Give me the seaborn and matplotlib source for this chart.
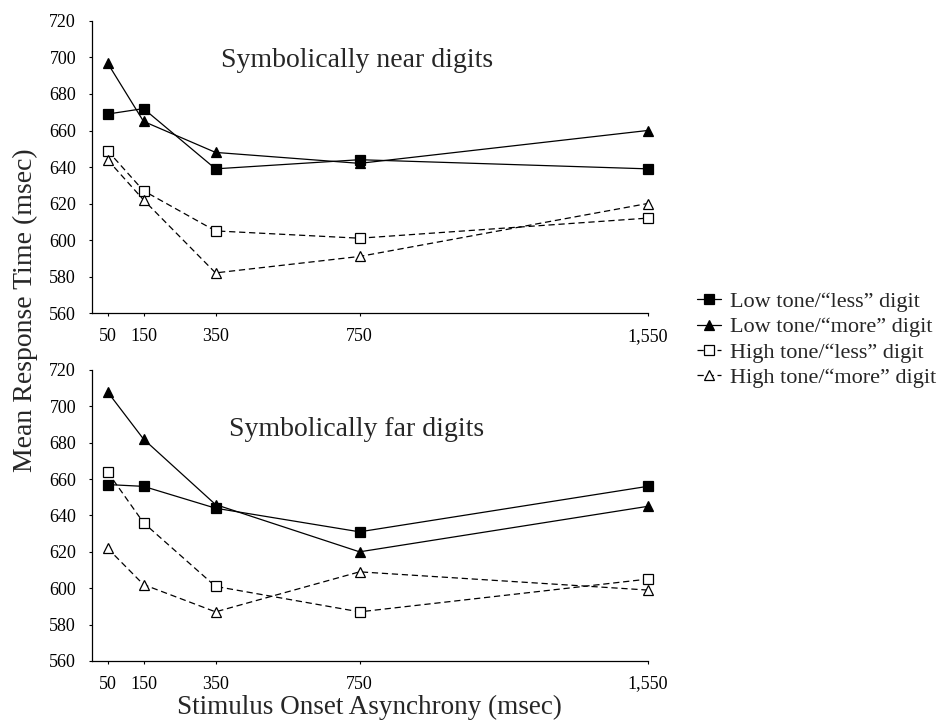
import numpy as np
import pandas as pd
import matplotlib
matplotlib.use('Agg')
import matplotlib.pyplot as plt
import seaborn as sns

# data
soa = [50, 150, 350, 750, 1550]
soa_labels = ['50', '150', '350', '750', '1,550']
series = ['Low tone/\u201cless\u201d digit', 'Low tone/\u201cmore\u201d digit',
          'High tone/\u201cless\u201d digit', 'High tone/\u201cmore\u201d digit']

near_low_less = [669, 672, 639, 644, 639]
near_low_more = [697, 665, 648, 642, 660]
near_high_less = [649, 627, 605, 601, 612]
near_high_more = [644, 622, 582, 591, 620]

far_low_less = [657, 656, 644, 631, 656]
far_low_more = [708, 682, 646, 620, 645]
far_high_less = [664, 636, 601, 587, 605]
far_high_more = [622, 602, 587, 609, 599]

panel_titles = ['Symbolically near digits', 'Symbolically far digits']

sns.set_style('ticks')
plt.rcParams['font.family'] = ['Liberation Serif', 'DejaVu Serif']

rows = []
for panel, vals in [(panel_titles[0], [near_low_less, near_low_more, near_high_less, near_high_more]),
                    (panel_titles[1], [far_low_less, far_low_more, far_high_less, far_high_more])]:
    for name, v in zip(series, vals):
        for x, y in zip(soa, v):
            rows.append({'panel': panel, 'series': name, 'soa': x, 'rt': y})
df = pd.DataFrame(rows)

# marker / line style per series
styles = {
    series[0]: dict(marker='s', mfc='black', ms=7.5, ls='-'),
    series[1]: dict(marker='^', mfc='black', ms=7.5, ls='-'),
    series[2]: dict(marker='s', mfc='white', ms=6.5, ls=(0, (5, 3))),
    series[3]: dict(marker='^', mfc='white', ms=6.5, ls=(0, (5, 3))),
}

fig = plt.figure(figsize=(9.4, 7.23), dpi=100)
ax1 = fig.add_axes([0.0979, 0.567, 0.591, 0.404])
ax2 = fig.add_axes([0.0979, 0.0858, 0.591, 0.4025])

title_y = [698.5, 687]
for ax, panel, ty in zip([ax1, ax2], panel_titles, title_y):
    d = df[df['panel'] == panel]
    for name in series:
        st = styles[name]
        sns.lineplot(data=d[d['series'] == name], x='soa', y='rt', ax=ax,
                     color='black', lw=0.9, linestyle=st['ls'],
                     marker=st['marker'], markersize=st['ms'],
                     markerfacecolor=st['mfc'], markeredgecolor='black',
                     markeredgewidth=0.9, label=name, legend=False,
                     clip_on=False, zorder=3)
    ax.set_xlim(7, 1550)
    ax.set_ylim(560, 720)
    ax.set_xticks(soa)
    ax.set_xticklabels(soa_labels)
    ax.set_yticks(np.arange(560, 721, 20))
    ax.tick_params(axis='both', labelsize=13, length=2.5, width=0.8, colors='black')
    ax.tick_params(axis='y', pad=9)
    ax.tick_params(axis='x', pad=8)
    ax.set_xlabel('')
    ax.set_ylabel('')
    for s in ['top', 'right']:
        ax.spines[s].set_visible(False)
    for s in ['left', 'bottom']:
        ax.spines[s].set_linewidth(0.9)
        ax.spines[s].set_color('black')
    ax.text(743, ty, panel, ha='center', va='center', fontsize=20)

ax2.set_xlabel('Stimulus Onset Asynchrony (msec)', fontsize=19.5, labelpad=2)
fig.text(0.027, 0.571, 'Mean Response Time (msec)', rotation=90,
         ha='center', va='center', fontsize=20)

handles, labels = ax1.get_legend_handles_labels()
fig.legend(handles, labels, loc='center left', bbox_to_anchor=(0.741, 0.530),
           frameon=False, fontsize=16, handlelength=1.1, handletextpad=0.4,
           labelspacing=0.22, borderpad=0, borderaxespad=0)

fig.savefig('out.png', dpi=100, facecolor='white')
